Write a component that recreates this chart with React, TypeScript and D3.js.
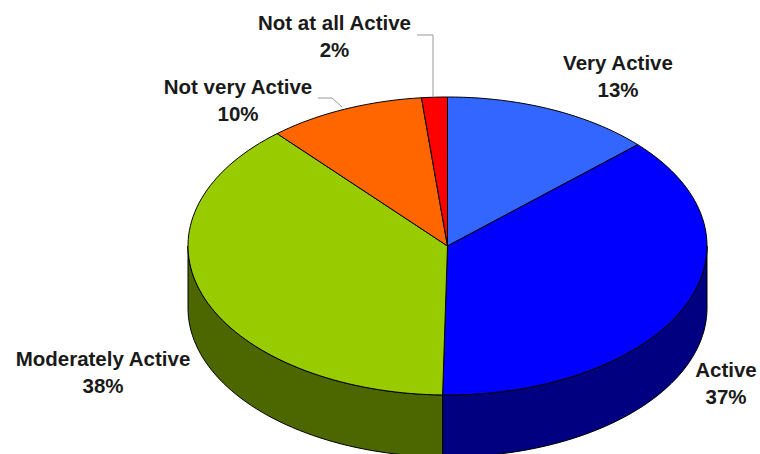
import { useMemo } from 'react';
import * as d3 from 'd3';

const WIDTH = 760;
const HEIGHT = 454;

// pie geometry (ellipse seen in perspective)
const CX = 447.5;
const CY = 246;
const RX = 259.5;
const RY = 149;
const DEPTH = 62;

const categories = ['Very Active', 'Active', 'Moderately Active', 'Not very Active', 'Not at all Active'];
// shares as read from slice boundaries; labels show them rounded
const values = [13.1, 37.2, 38.3, 9.8, 1.6];
const topColors = ['#3366FF', '#0000FF', '#99CC00', '#FF6600', '#FF0000'];
const sideColors = ['#1A3380', '#000080', '#4C6600', '#803300', '#800000'];

// label anchor (center x, baseline of first line)
const labelPos: [number, number][] = [
    [618, 70],
    [726, 377],
    [103, 366],
    [238, 94],
    [334.5, 30],
];

const pt = (t: number, dy = 0): [number, number] => [CX + RX * Math.sin(t), CY - RY * Math.cos(t) + dy];

const sample = (a: number, b: number) => {
    const n = Math.max(2, Math.ceil(((b - a) / (2 * Math.PI)) * 200));
    return d3.range(n + 1).map((i) => a + ((b - a) * i) / n);
};

const line = d3.line<[number, number]>();

export default function App() {
    const arcs = useMemo(() => d3.pie<number>().sort(null).value((d) => d)(values), []);

    const sides = arcs.map((a, i) => {
        const s = Math.max(a.startAngle, Math.PI / 2);
        const e = Math.min(a.endAngle, (3 * Math.PI) / 2);
        if (e <= s) return null;
        const ts = sample(s, e);
        const pts = [...ts.map((t) => pt(t)), ...ts.slice().reverse().map((t) => pt(t, DEPTH))];
        return (
            <path key={'s' + i} d={line(pts) + 'Z'} fill={sideColors[i]} stroke="#000" strokeWidth={1} strokeLinejoin="round" />
        );
    });

    const tops = arcs.map((a, i) => {
        const pts: [number, number][] = [[CX, CY], ...sample(a.startAngle, a.endAngle).map((t) => pt(t))];
        return (
            <path key={'t' + i} d={line(pts) + 'Z'} fill={topColors[i]} stroke="#000" strokeWidth={1} strokeLinejoin="round" />
        );
    });

    const labels = categories.map((c, i) => {
        const [x, y] = labelPos[i];
        return (
            <text key={'l' + i} x={x} y={y} textAnchor="middle" fontFamily="'Liberation Sans', Arial, sans-serif" fontWeight="bold" fontSize={20.5} fill="#1a1a1a">
                <tspan x={x} y={y}>{c}</tspan>
                <tspan x={x} y={y + 26.5}>{`${Math.round(values[i])}%`}</tspan>
            </text>
        );
    });

    return (
        <svg width={WIDTH} height={HEIGHT} style={{ position: 'absolute', left: 0, top: 0, background: '#fff' }}>
            {sides}
            {tops}
            {/* leader lines */}
            <polyline points="417,35 433,35 433,97" fill="none" stroke="#999" strokeWidth={1} />
            <polyline points="318,98 332,98 342,107" fill="none" stroke="#999" strokeWidth={1} />
            {labels}
        </svg>
    );
}
